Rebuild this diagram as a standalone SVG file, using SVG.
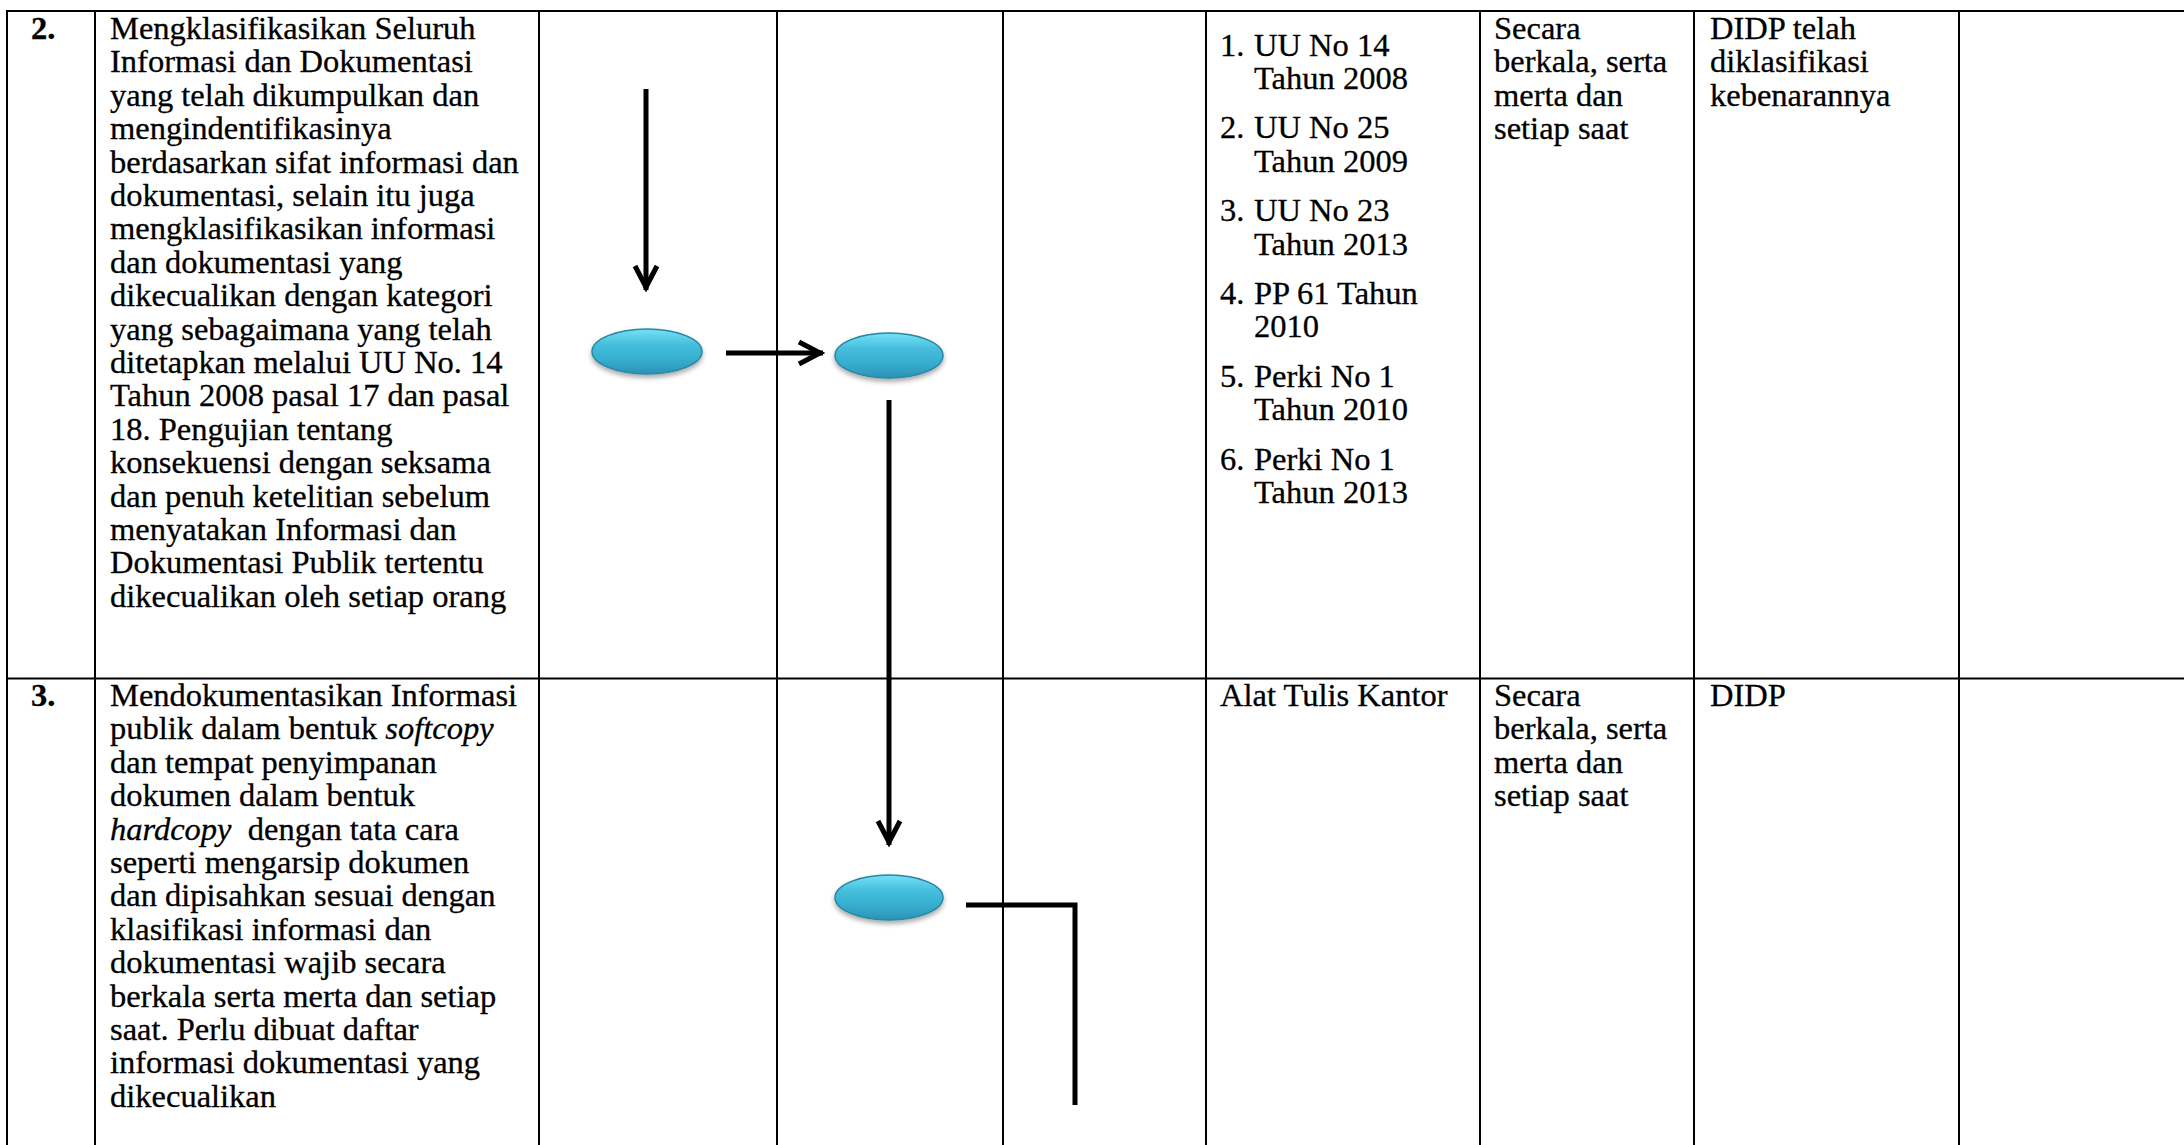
<svg xmlns="http://www.w3.org/2000/svg" width="2184" height="1145" viewBox="0 0 2184 1145">
  <defs>
    <style>
      .grid line { stroke: #000; stroke-width: 2; }
      .t { font-family: "Liberation Serif", "Times New Roman", serif; font-size: 32.5px; fill: #000; stroke: #000; stroke-width: 0.3; }
      .b { font-weight: bold; }
      .i { font-style: italic; }
      .conn { fill: none; stroke: #000; stroke-width: 5; }
      .node { fill: url(#oval); stroke: #2a86a3; stroke-width: 1.5; filter: url(#shadow); }
    </style>
    <linearGradient id="oval" x1="0" y1="0" x2="0" y2="1">
      <stop offset="0" stop-color="#74e2f8"/>
      <stop offset="0.35" stop-color="#45bedc"/>
      <stop offset="0.7" stop-color="#36acce"/>
      <stop offset="1" stop-color="#2b92b4"/>
    </linearGradient>
    <filter id="shadow" x="-30%" y="-40%" width="160%" height="200%">
      <feDropShadow dx="0" dy="3" stdDeviation="2.5" flood-color="#000" flood-opacity="0.35"/>
    </filter>
    <marker id="chev" markerUnits="userSpaceOnUse" markerWidth="40" markerHeight="40" viewBox="-30 -20 40 40" refX="0" refY="0" orient="auto">
      <path d="M-24,-11 L-3,0 L-24,11" fill="none" stroke="#000" stroke-width="5"/>
    </marker>
  </defs>
  <rect width="2184" height="1145" fill="#fff"/>

  <g id="table-grid" class="grid">
    <line x1="6" y1="11" x2="2184" y2="11"/>
    <line x1="6" y1="678.5" x2="2184" y2="678.5"/>
    <line x1="7" y1="10" x2="7" y2="1145"/>
    <line x1="95" y1="10" x2="95" y2="1145"/>
    <line x1="539" y1="10" x2="539" y2="1145"/>
    <line x1="777" y1="10" x2="777" y2="1145"/>
    <line x1="1003" y1="10" x2="1003" y2="1145"/>
    <line x1="1206" y1="10" x2="1206" y2="1145"/>
    <line x1="1480" y1="10" x2="1480" y2="1145"/>
    <line x1="1694" y1="10" x2="1694" y2="1145"/>
    <line x1="1959" y1="10" x2="1959" y2="1145"/>
  </g>

  <g id="row2-no">
    <text class="t b" x="31" y="39">2.</text>
  </g>
  <g id="row2-desc">
    <text class="t">
      <tspan x="110" y="39">Mengklasifikasikan Seluruh</tspan>
      <tspan x="110" y="72.4">Informasi dan Dokumentasi</tspan>
      <tspan x="110" y="105.8">yang telah dikumpulkan dan</tspan>
      <tspan x="110" y="139.2">mengindentifikasinya</tspan>
      <tspan x="110" y="172.6">berdasarkan sifat informasi dan</tspan>
      <tspan x="110" y="206">dokumentasi, selain itu juga</tspan>
      <tspan x="110" y="239.4">mengklasifikasikan informasi</tspan>
      <tspan x="110" y="272.8">dan dokumentasi yang</tspan>
      <tspan x="110" y="306.2">dikecualikan dengan kategori</tspan>
      <tspan x="110" y="339.6">yang sebagaimana yang telah</tspan>
      <tspan x="110" y="373">ditetapkan melalui UU No. 14</tspan>
      <tspan x="110" y="406.4">Tahun 2008 pasal 17 dan pasal</tspan>
      <tspan x="110" y="439.8">18. Pengujian tentang</tspan>
      <tspan x="110" y="473.2">konsekuensi dengan seksama</tspan>
      <tspan x="110" y="506.6">dan penuh ketelitian sebelum</tspan>
      <tspan x="110" y="540">menyatakan Informasi dan</tspan>
      <tspan x="110" y="573.4">Dokumentasi Publik tertentu</tspan>
      <tspan x="110" y="606.8">dikecualikan oleh setiap orang</tspan>
    </text>
  </g>
  <g id="row2-dasar-hukum">
    <text class="t">
      <tspan x="1220" y="55.5">1.</tspan><tspan x="1254" y="55.5">UU No 14</tspan>
      <tspan x="1254" y="88.9">Tahun 2008</tspan>
      <tspan x="1220" y="138.3">2.</tspan><tspan x="1254" y="138.3">UU No 25</tspan>
      <tspan x="1254" y="171.7">Tahun 2009</tspan>
      <tspan x="1220" y="221.1">3.</tspan><tspan x="1254" y="221.1">UU No 23</tspan>
      <tspan x="1254" y="254.5">Tahun 2013</tspan>
      <tspan x="1220" y="303.9">4.</tspan><tspan x="1254" y="303.9">PP 61 Tahun</tspan>
      <tspan x="1254" y="337.3">2010</tspan>
      <tspan x="1220" y="386.7">5.</tspan><tspan x="1254" y="386.7">Perki No 1</tspan>
      <tspan x="1254" y="420.1">Tahun 2010</tspan>
      <tspan x="1220" y="469.5">6.</tspan><tspan x="1254" y="469.5">Perki No 1</tspan>
      <tspan x="1254" y="502.9">Tahun 2013</tspan>
    </text>
  </g>
  <g id="row2-waktu">
    <text class="t">
      <tspan x="1494" y="39">Secara</tspan>
      <tspan x="1494" y="72.4">berkala, serta</tspan>
      <tspan x="1494" y="105.8">merta dan</tspan>
      <tspan x="1494" y="139.2">setiap saat</tspan>
    </text>
  </g>
  <g id="row2-output">
    <text class="t">
      <tspan x="1710" y="39">DIDP telah</tspan>
      <tspan x="1710" y="72.4">diklasifikasi</tspan>
      <tspan x="1710" y="105.8">kebenarannya</tspan>
    </text>
  </g>

  <g id="row3-no">
    <text class="t b" x="31" y="706">3.</text>
  </g>
  <g id="row3-desc">
    <text class="t">
      <tspan x="110" y="706">Mendokumentasikan Informasi</tspan>
      <tspan x="110" y="739.4">publik dalam bentuk <tspan class="i">softcopy</tspan></tspan>
      <tspan x="110" y="772.8">dan tempat penyimpanan</tspan>
      <tspan x="110" y="806.2">dokumen dalam bentuk</tspan>
      <tspan x="110" y="839.6" xml:space="preserve"><tspan class="i">hardcopy</tspan>  dengan tata cara</tspan>
      <tspan x="110" y="873">seperti mengarsip dokumen</tspan>
      <tspan x="110" y="906.4">dan dipisahkan sesuai dengan</tspan>
      <tspan x="110" y="939.8">klasifikasi informasi dan</tspan>
      <tspan x="110" y="973.2">dokumentasi wajib secara</tspan>
      <tspan x="110" y="1006.6">berkala serta merta dan setiap</tspan>
      <tspan x="110" y="1040">saat. Perlu dibuat daftar</tspan>
      <tspan x="110" y="1073.4">informasi dokumentasi yang</tspan>
      <tspan x="110" y="1106.8">dikecualikan</tspan>
    </text>
  </g>
  <g id="row3-dasar-hukum">
    <text class="t" x="1220" y="706">Alat Tulis Kantor</text>
  </g>
  <g id="row3-waktu">
    <text class="t">
      <tspan x="1494" y="706">Secara</tspan>
      <tspan x="1494" y="739.4">berkala, serta</tspan>
      <tspan x="1494" y="772.8">merta dan</tspan>
      <tspan x="1494" y="806.2">setiap saat</tspan>
    </text>
  </g>
  <g id="row3-output">
    <text class="t" x="1710" y="706">DIDP</text>
  </g>

  <g id="node-1"><ellipse class="node" cx="647" cy="351.5" rx="55" ry="22.5"/></g>
  <g id="node-2"><ellipse class="node" cx="889" cy="355.5" rx="54" ry="22.5"/></g>
  <g id="node-3"><ellipse class="node" cx="889" cy="897.5" rx="54" ry="22.5"/></g>

  <g id="connectors">
    <line class="conn" x1="646" y1="89" x2="646" y2="290" marker-end="url(#chev)"/>
    <line class="conn" x1="726" y1="353" x2="823" y2="353" marker-end="url(#chev)"/>
    <line class="conn" x1="889" y1="400" x2="889" y2="845" marker-end="url(#chev)"/>
    <path class="conn" d="M966,905 H1075 V1105"/>
  </g>
</svg>
